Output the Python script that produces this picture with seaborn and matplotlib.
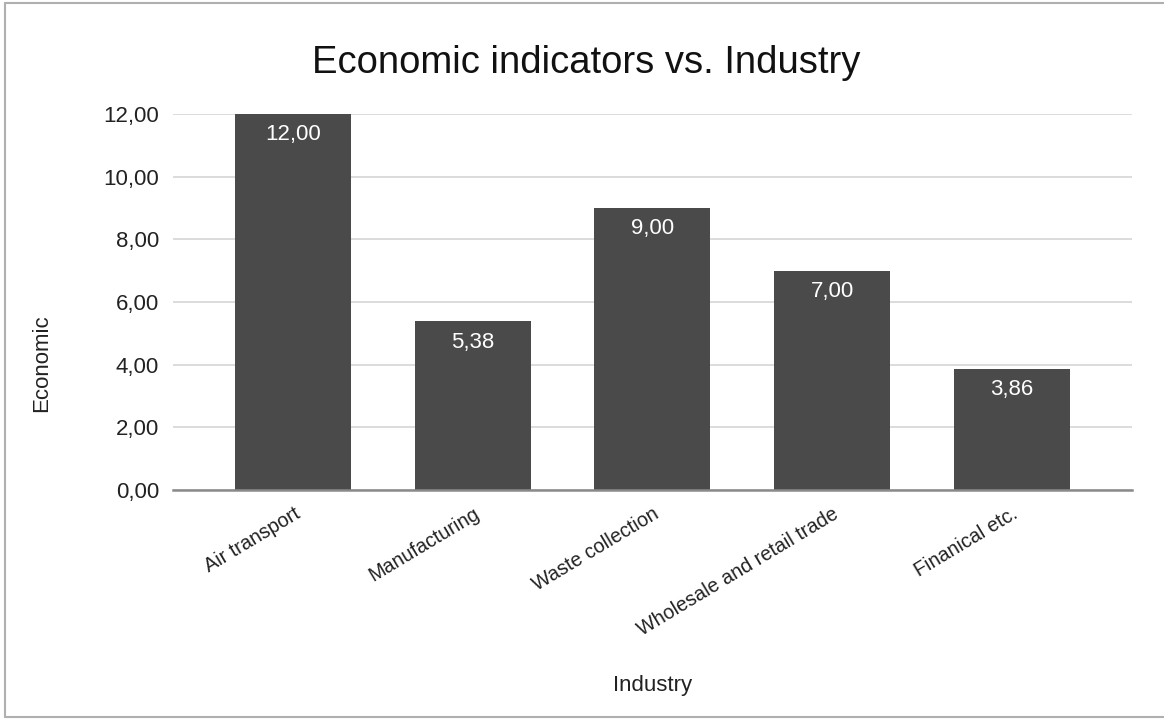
import matplotlib
matplotlib.use("Agg")
import matplotlib.pyplot as plt
import seaborn as sns
import pandas as pd
from matplotlib.lines import Line2D

industries = ["Air transport", "Manufacturing", "Waste collection",
              "Wholesale and retail trade", "Finanical etc."]
values = [12.00, 5.38, 9.00, 7.00, 3.86]
y_ticks = [0, 2, 4, 6, 8, 10, 12]

df = pd.DataFrame({"Industry": industries, "Economic": values})

sns.set_theme(style="white")
plt.rcParams["font.family"] = ["Liberation Sans", "DejaVu Sans"]

fig = plt.figure(figsize=(11.64, 7.2), dpi=100)
ax = fig.add_axes([0.1486, 0.3194, 0.8239, 0.5223])

sns.barplot(data=df, x="Industry", y="Economic", color="#4a4a4a",
            saturation=1, width=0.646, ax=ax, zorder=3)
for p in ax.patches:
    p.set_edgecolor("none")

ax.set_xlim(-0.67, 4.67)
ax.set_ylim(0, 12)
ax.set_yticks(y_ticks)
ax.set_yticklabels([f"{v:.2f}".replace(".", ",") for v in y_ticks],
                   fontsize=16, color="#222222")
ax.yaxis.grid(True, color="#d6d6d6", linewidth=1.2, zorder=0)
ax.set_axisbelow(True)
ax.tick_params(axis="y", length=0, pad=10)
ax.tick_params(axis="x", length=0, pad=10)

for lbl in ax.get_xticklabels():
    lbl.set_rotation(31)
    lbl.set_ha("right")
    lbl.set_rotation_mode("anchor")
    lbl.set_fontsize(14.2)
    lbl.set_color("#222222")

for s in ["top", "right", "left"]:
    ax.spines[s].set_visible(False)
ax.spines["bottom"].set_color("#8a8a8a")
ax.spines["bottom"].set_linewidth(1.8)
ax.spines["bottom"].set_zorder(4)

for i, v in enumerate(values):
    ax.annotate(f"{v:.2f}".replace(".", ","), xy=(i, v), xytext=(0, -15),
                textcoords="offset points", ha="center", va="center",
                color="white", fontsize=16, zorder=5)

ax.set_xlabel("Industry", fontsize=16, color="#222222")
ax.set_ylabel("Economic", fontsize=16, color="#222222")
ax.xaxis.set_label_coords(0.5, -0.492)
ax.yaxis.set_label_coords(-0.126, 0.338)

fig.text(0.504, 0.913, "Economic indicators vs. Industry", ha="center",
         va="center", fontsize=27.5, color="#111111")

# thin frame around the chart area
for xs, ys in [([0.0043, 1.0], [0.9958, 0.9958]),
               ([0.0043, 0.0043], [0.0042, 0.9958]),
               ([0.0043, 1.0], [0.0042, 0.0042])]:
    fig.add_artist(Line2D(xs, ys, transform=fig.transFigure,
                          color="#b0b0b0", linewidth=1.5))

fig.savefig("out.png", dpi=100, facecolor="white")
